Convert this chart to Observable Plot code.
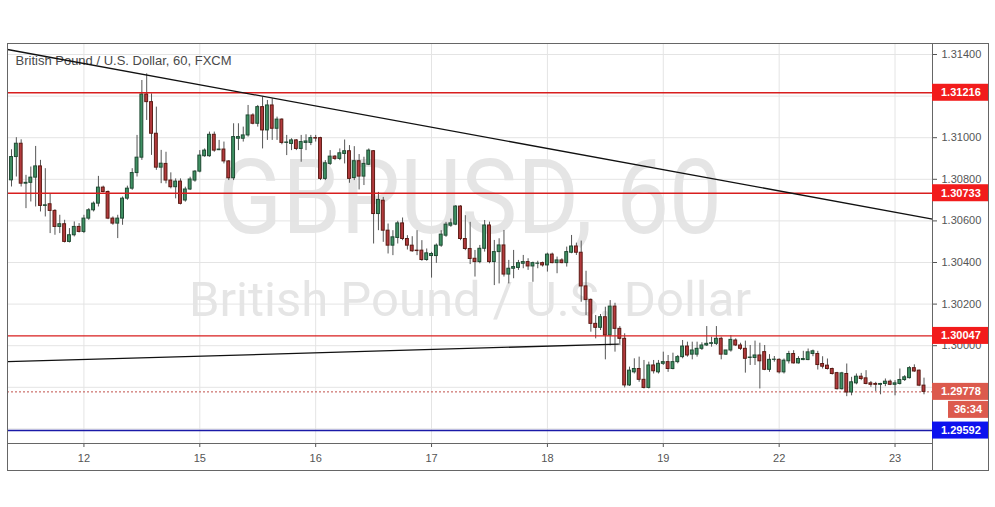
<!DOCTYPE html>
<html><head><meta charset="utf-8">
<script src="https://cdn.jsdelivr.net/npm/d3@7"></script>
<script src="https://cdn.jsdelivr.net/npm/@observablehq/plot@0.6"></script>
<style>
html,body{margin:0;padding:0;background:#fff;}
#chart svg{display:block;}
</style></head><body><div id="chart"></div>
<script>
// ---- data: hourly GBP/USD candles (price) ----
const open = [1.30795,1.30907,1.30971,1.30779,1.30783,1.30808,1.30862,1.30672,1.30680,1.30648,1.30571,1.30584,1.30499,1.30531,1.30571,1.30547,1.30611,1.30651,1.30683,1.30760,1.30739,1.30611,1.30587,1.30611,1.30707,1.30755,1.30830,1.30904,1.31208,1.31171,1.31019,1.30856,1.30874,1.30794,1.30762,1.30789,1.30698,1.30751,1.30794,1.30837,1.30911,1.30911,1.31014,1.30940,1.30943,1.30886,1.30805,1.30995,1.30995,1.31011,1.31107,1.31067,1.31147,1.31035,1.31155,1.31043,1.31087,1.30975,1.30970,1.30987,1.30946,1.30975,1.30975,1.30998,1.30998,1.30802,1.30874,1.30909,1.30898,1.30922,1.30935,1.30806,1.30887,1.30813,1.30870,1.30935,1.30633,1.30697,1.30553,1.30481,1.30518,1.30588,1.30513,1.30481,1.30457,1.30457,1.30412,1.30431,1.30431,1.30481,1.30529,1.30577,1.30582,1.30669,1.30513,1.30465,1.30418,1.30402,1.30466,1.30578,1.30402,1.30450,1.30482,1.30342,1.30370,1.30374,1.30394,1.30402,1.30381,1.30394,1.30397,1.30386,1.30438,1.30397,1.30410,1.30397,1.30447,1.30477,1.30447,1.30285,1.30220,1.30105,1.30086,1.30137,1.30049,1.30188,1.30081,1.30033,1.29809,1.29872,1.29888,1.29836,1.29797,1.29905,1.29872,1.29913,1.29921,1.29888,1.29921,1.29945,1.29996,1.29957,1.29957,1.29985,1.30001,1.30009,1.30009,1.30033,1.29957,1.29977,1.30025,1.30001,1.29985,1.29941,1.29941,1.29953,1.29969,1.29884,1.29932,1.29932,1.29872,1.29925,1.29960,1.29915,1.29931,1.29931,1.29960,1.29960,1.29912,1.29904,1.29888,1.29868,1.29791,1.29864,1.29775,1.29819,1.29851,1.29843,1.29819,1.29816,1.29812,1.29816,1.29827,1.29812,1.29816,1.29835,1.29844,1.29892,1.29880,1.29808];
const high = [1.30942,1.31000,1.30990,1.30819,1.30859,1.30958,1.30891,1.30851,1.30731,1.30654,1.30627,1.30603,1.30563,1.30595,1.30587,1.30627,1.30659,1.30691,1.30814,1.30767,1.30744,1.30619,1.30627,1.30715,1.30767,1.30851,1.31011,1.31275,1.31307,1.31211,1.31147,1.30939,1.30930,1.30831,1.30802,1.30802,1.30762,1.30810,1.30842,1.30938,1.30946,1.31027,1.31027,1.30987,1.30979,1.30890,1.31067,1.31067,1.31051,1.31155,1.31115,1.31155,1.31195,1.31179,1.31187,1.31099,1.31091,1.31011,1.30995,1.30991,1.31011,1.31014,1.31011,1.31011,1.31002,1.30890,1.30938,1.30914,1.30946,1.30989,1.30962,1.30957,1.30919,1.30906,1.30946,1.30938,1.30737,1.30713,1.30585,1.30553,1.30598,1.30614,1.30529,1.30524,1.30553,1.30505,1.30465,1.30449,1.30489,1.30553,1.30593,1.30609,1.30673,1.30673,1.30625,1.30593,1.30458,1.30482,1.30602,1.30594,1.30506,1.30514,1.30554,1.30410,1.30458,1.30410,1.30434,1.30418,1.30402,1.30406,1.30402,1.30445,1.30445,1.30426,1.30418,1.30474,1.30530,1.30493,1.30503,1.30358,1.30225,1.30145,1.30150,1.30185,1.30217,1.30204,1.30092,1.30057,1.29897,1.29937,1.29945,1.29929,1.29921,1.29929,1.29929,1.29969,1.29953,1.29964,1.29953,1.30025,1.30017,1.30017,1.30017,1.30014,1.30092,1.30041,1.30092,1.30041,1.29977,1.30049,1.30033,1.30012,1.30022,1.30001,1.30022,1.30012,1.30001,1.29957,1.29948,1.29937,1.29936,1.29973,1.29976,1.29947,1.29973,1.29984,1.29979,1.29973,1.29947,1.29936,1.29892,1.29872,1.29872,1.29912,1.29848,1.29864,1.29867,1.29880,1.29828,1.29824,1.29819,1.29840,1.29835,1.29832,1.29888,1.29856,1.29899,1.29908,1.29883,1.29844];
const low = [1.30763,1.30811,1.30763,1.30659,1.30691,1.30667,1.30643,1.30619,1.30539,1.30531,1.30539,1.30494,1.30494,1.30523,1.30542,1.30539,1.30603,1.30643,1.30667,1.30735,1.30606,1.30579,1.30515,1.30579,1.30699,1.30747,1.30811,1.30891,1.31083,1.30915,1.30843,1.30779,1.30778,1.30754,1.30706,1.30677,1.30690,1.30746,1.30786,1.30831,1.30906,1.30906,1.30930,1.30938,1.30874,1.30794,1.30794,1.30938,1.30979,1.31003,1.31062,1.31051,1.30946,1.30987,1.30987,1.30987,1.30966,1.30914,1.30938,1.30938,1.30882,1.30938,1.30962,1.30979,1.30794,1.30794,1.30866,1.30890,1.30890,1.30874,1.30781,1.30794,1.30749,1.30770,1.30866,1.30489,1.30553,1.30497,1.30441,1.30433,1.30489,1.30505,1.30460,1.30449,1.30433,1.30406,1.30406,1.30325,1.30396,1.30473,1.30521,1.30569,1.30577,1.30505,1.30457,1.30390,1.30330,1.30394,1.30450,1.30394,1.30289,1.30297,1.30330,1.30297,1.30322,1.30362,1.30370,1.30362,1.30305,1.30370,1.30378,1.30354,1.30394,1.30346,1.30394,1.30378,1.30442,1.30434,1.30209,1.30145,1.30065,1.30033,1.30073,1.29932,1.29999,1.29969,1.30001,1.29797,1.29804,1.29864,1.29824,1.29792,1.29792,1.29864,1.29864,1.29905,1.29872,1.29884,1.29913,1.29937,1.29945,1.29932,1.29945,1.29977,1.29996,1.29993,1.30001,1.29932,1.29953,1.29969,1.29996,1.29977,1.29868,1.29905,1.29905,1.29792,1.29880,1.29872,1.29921,1.29864,1.29864,1.29912,1.29912,1.29912,1.29928,1.29928,1.29947,1.29883,1.29888,1.29883,1.29859,1.29787,1.29787,1.29755,1.29759,1.29812,1.29832,1.29812,1.29800,1.29780,1.29764,1.29803,1.29808,1.29759,1.29811,1.29828,1.29840,1.29872,1.29803,1.29764];
const close = [1.30907,1.30971,1.30779,1.30783,1.30808,1.30862,1.30672,1.30675,1.30648,1.30571,1.30584,1.30499,1.30531,1.30571,1.30547,1.30611,1.30651,1.30683,1.30760,1.30739,1.30611,1.30587,1.30611,1.30707,1.30755,1.30830,1.30904,1.31208,1.31171,1.31019,1.30856,1.30875,1.30794,1.30762,1.30789,1.30682,1.30751,1.30799,1.30837,1.30914,1.30938,1.31014,1.30938,1.30943,1.30886,1.30805,1.31003,1.31003,1.31011,1.31107,1.31067,1.31147,1.31035,1.31155,1.31043,1.31087,1.30975,1.30977,1.30987,1.30946,1.30979,1.30982,1.30998,1.30996,1.30802,1.30877,1.30909,1.30898,1.30925,1.30935,1.30802,1.30887,1.30813,1.30874,1.30938,1.30633,1.30701,1.30553,1.30481,1.30521,1.30588,1.30513,1.30481,1.30454,1.30455,1.30412,1.30444,1.30441,1.30481,1.30534,1.30582,1.30588,1.30669,1.30513,1.30465,1.30417,1.30402,1.30466,1.30578,1.30402,1.30450,1.30482,1.30342,1.30370,1.30378,1.30397,1.30402,1.30381,1.30397,1.30395,1.30386,1.30438,1.30397,1.30410,1.30397,1.30450,1.30477,1.30447,1.30285,1.30220,1.30105,1.30086,1.30137,1.30049,1.30188,1.30081,1.30033,1.29809,1.29880,1.29888,1.29836,1.29797,1.29905,1.29877,1.29913,1.29921,1.29888,1.29921,1.29945,1.29996,1.29953,1.29977,1.29985,1.30001,1.30009,1.30012,1.30033,1.29957,1.29977,1.30028,1.30001,1.29985,1.29937,1.29943,1.29953,1.29925,1.29884,1.29932,1.29933,1.29872,1.29928,1.29960,1.29915,1.29936,1.29936,1.29968,1.29973,1.29907,1.29899,1.29888,1.29864,1.29791,1.29867,1.29775,1.29824,1.29851,1.29840,1.29816,1.29812,1.29812,1.29816,1.29827,1.29812,1.29819,1.29835,1.29848,1.29892,1.29876,1.29808,1.29778];

// day ticks (candle index where each day starts) and labels
const dayTickIndex = [15, 39, 63, 87, 111, 135, 159, 183];
const dayTickLabels = ["12", "15", "16", "17", "18", "19", "22", "23"];
// price grid and visible axis labels
const priceGrid = [1.296, 1.298, 1.300, 1.302, 1.304, 1.306, 1.308, 1.310, 1.312, 1.314];
const priceAxisTicks = [1.300, 1.302, 1.304, 1.306, 1.308, 1.310, 1.314];
// horizontal levels
const resistancePrices = [1.31216, 1.30733, 1.30047];
const supportPrice = 1.29592;
const lastPrice = 1.29778;
const countdownText = "36:34";
// trend lines (candle index, price)
const trendFrom = [[-0.83, 1.31424], [-0.83, 1.29923]];
const trendTo = [[190.76, 1.30609], [125.8, 1.30008]];
const titleText = "British Pound / U.S. Dollar, 60, FXCM";
const watermarkSymbol = "GBPUSD, 60";
const watermarkName = "British Pound / U.S. Dollar";

const rows = open.map((o, i) => ({i, open: o, high: high[i], low: low[i], close: close[i]}));
const ups = rows.filter(d => d.close >= d.open);
const downs = rows.filter(d => d.close < d.open);
const trends = trendFrom.map((a, k) => ({x1: a[0], y1: a[1], x2: trendTo[k][0], y2: trendTo[k][1]}));
const dayLabel = new Map(dayTickIndex.map((d, k) => [d, dayTickLabels[k]]));

const W = 995, H = 507, ML = 7, MR = 63, MT = 43, MB = 64;
const FONT = "'Liberation Sans', Arial, sans-serif";

const chart = Plot.plot({
  width: W, height: H,
  marginLeft: ML, marginRight: MR, marginTop: MT, marginBottom: MB,
  x: {domain: [-0.83, 190.76]},
  y: {domain: [1.295298, 1.314529]},
  style: {background: "#fff", fontFamily: FONT, fontSize: "11px", color: "#555", overflow: "visible"},
  marks: [
    Plot.text([watermarkSymbol], {frameAnchor: "middle", dy: -44, fontSize: 104, fill: "#e5e5e5", fontFamily: "Roboto, sans-serif"}),
    Plot.text([watermarkName], {frameAnchor: "middle", dy: 57, fontSize: 48, fill: "#e5e5e5", fontFamily: "Roboto, sans-serif"}),
    Plot.gridY(priceGrid, {stroke: "#e4e4e4", strokeOpacity: 1}),
    Plot.gridX(dayTickIndex, {stroke: "#e4e4e4", strokeOpacity: 1}),
    Plot.axisY(priceAxisTicks, {anchor: "right", tickSize: 4, tickPadding: 5, tickFormat: d => d.toFixed(5), fill: "#555", stroke: "#555", fontSize: 11}),
    Plot.axisX(dayTickIndex, {anchor: "bottom", tickSize: 4, tickPadding: 7, tickFormat: d => dayLabel.get(d), fill: "#555", stroke: "#555", fontSize: 11}),
    Plot.text([titleText], {frameAnchor: "top-left", dx: 8, dy: 12, textAnchor: "start", lineAnchor: "top", fontSize: 13, fill: "#4a4a4a"}),
    Plot.ruleY([lastPrice], {stroke: "#c0504a", strokeWidth: 1, strokeDasharray: "2,2"}),
    Plot.ruleX(rows, {x: "i", y1: "low", y2: "high", stroke: "#555", strokeWidth: 1}),
    Plot.rect(ups, {x1: d => d.i - 0.3, x2: d => d.i + 0.3, y1: "open", y2: "close", fill: "#3f9163", stroke: "#1f4a33", strokeWidth: 1}),
    Plot.rect(downs, {x1: d => d.i - 0.3, x2: d => d.i + 0.3, y1: "open", y2: "close", fill: "#b33a3d", stroke: "#5b1a13", strokeWidth: 1}),
    Plot.ruleY(resistancePrices, {stroke: "#d81e1e", strokeWidth: 1.3}),
    Plot.ruleY([supportPrice], {stroke: "#1a1aa8", strokeWidth: 1.5}),
    Plot.link(trends, {x1: "x1", y1: "y1", x2: "x2", y2: "y2", stroke: "#111", strokeWidth: 1.3}),
    Plot.frame({stroke: "#666", strokeWidth: 1})
  ]
});

document.getElementById("chart").appendChild(chart);

// watermark width fit (TradingView's condensed watermark font)
d3.select(chart).selectAll("text").each(function() {
  const t = this.textContent;
  if (t === watermarkSymbol) d3.select(this).attr("textLength", 504).attr("lengthAdjust", "spacingAndGlyphs");
  if (t === watermarkName) d3.select(this).attr("textLength", 562).attr("lengthAdjust", "spacingAndGlyphs");
});

// outer panel border and price-axis separator
const svg = d3.select(chart);
const yS = chart.scale("y");
const axisX0 = W - MR;
const g = svg.append("g").attr("text-anchor", "start");
g.append("rect").attr("x", ML + 0.5).attr("y", MT + 0.5).attr("width", 988 - ML).attr("height", 470 - MT)
  .attr("fill", "none").attr("stroke", "#666");
g.append("line").attr("x1", axisX0 + 0.5).attr("x2", axisX0 + 0.5).attr("y1", MT).attr("y2", 470).attr("stroke", "#666");

// price label boxes
const boxes = resistancePrices.map(p => ({p, fill: "#f21c1c", text: p.toFixed(5)}))
  .concat([{p: lastPrice, fill: "#dc5a4d", text: lastPrice.toFixed(5)}, {p: supportPrice, fill: "#0d12ee", text: supportPrice.toFixed(5)}]);
boxes.forEach(b => {
  const yy = yS.apply(b.p);
  g.append("rect").attr("x", axisX0).attr("y", yy - 8.5).attr("width", 56).attr("height", 17).attr("fill", b.fill);
  g.append("text").attr("x", axisX0 + 9).attr("y", yy).attr("dy", "0.36em").attr("text-anchor", "start").attr("fill", "#fff")
    .attr("font-weight", "bold").attr("font-size", 11).attr("font-family", FONT).text(b.text);
});
const yl = yS.apply(lastPrice) + 18;
g.append("rect").attr("x", axisX0 + 16).attr("y", yl - 8.5).attr("width", 40).attr("height", 17).attr("fill", "#dc5a4d");
g.append("text").attr("x", axisX0 + 36).attr("y", yl).attr("dy", "0.36em").attr("text-anchor", "middle").attr("fill", "#fff")
  .attr("font-weight", "bold").attr("font-size", 11).attr("font-family", FONT).text(countdownText);
</script></body></html>
